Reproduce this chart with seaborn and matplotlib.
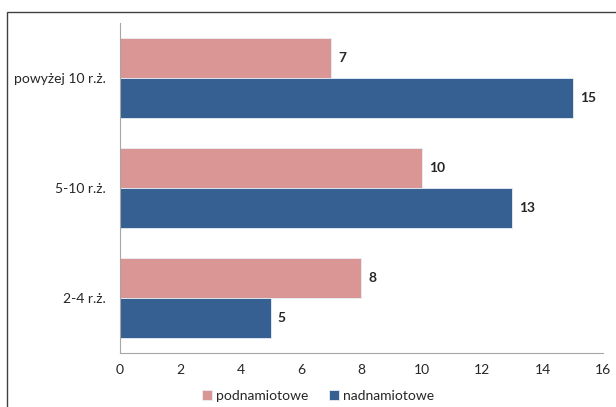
import pandas as pd
import matplotlib
matplotlib.use("Agg")
import matplotlib.pyplot as plt
import seaborn as sns
from matplotlib.patches import Rectangle

# dane
kategorie = ["powyżej 10 r.ż.", "5-10 r.ż.", "2-4 r.ż."]
podnamiotowe = [7, 10, 8]
nadnamiotowe = [15, 13, 5]
serie = ["podnamiotowe", "nadnamiotowe"]
kolory = ["#D99694", "#376092"]

df = pd.DataFrame({
    "kategoria": kategorie * 2,
    "seria": [serie[0]] * 3 + [serie[1]] * 3,
    "wartosc": podnamiotowe + nadnamiotowe,
})

sns.set_style("white")
plt.rcParams['font.family'] = ['Lato', 'DejaVu Sans']

fig = plt.figure(figsize=(6.16, 4.07), dpi=100)
ax = fig.add_axes([0.1948, 0.1327, 0.7841, 0.8108])

sns.barplot(data=df, y="kategoria", x="wartosc", hue="seria", hue_order=serie,
            order=kategorie, palette=kolory, saturation=1, width=0.727,
            orient="h", ax=ax, edgecolor="#E8EEF6", linewidth=0.6, errorbar=None)

for cont in ax.containers:
    ax.bar_label(cont, padding=5, fontsize=10, fontweight="bold")

ax.set_xlim(0, 16)
ax.set_ylim(2.5, -0.5)
ax.set_xticks(range(0, 17, 2))
ax.set_xlabel("")
ax.set_ylabel("")
ax.tick_params(axis="both", labelsize=10, length=0, pad=8)
ax.tick_params(axis="y", pad=10)

for s in ["top", "right"]:
    ax.spines[s].set_visible(False)
ax.spines["left"].set_color("#A6A6A6")
ax.spines["bottom"].set_color("#A6A6A6")
ax.spines["left"].set_linewidth(0.8)
ax.spines["bottom"].set_linewidth(0.8)

uchwyty, etykiety = ax.get_legend_handles_labels()
ax.get_legend().remove()
fig.legend(uchwyty, etykiety, loc="center", bbox_to_anchor=(0.516, 0.028), ncol=2,
           frameon=False, fontsize=10, handlelength=0.7, handleheight=0.7,
           handletextpad=0.3, columnspacing=1.5)

# ramka obszaru wykresu
fig.patches.append(Rectangle((7 / 616, -0.05), 1.2, 1 - 12 / 407 + 0.05,
                             transform=fig.transFigure, fill=False,
                             edgecolor="#404040", linewidth=1.0))

fig.savefig("out.png", dpi=100)
